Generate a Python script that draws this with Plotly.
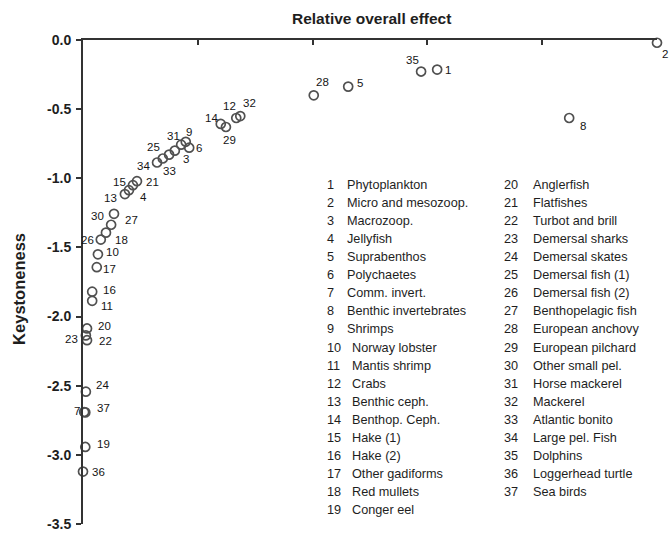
import plotly.graph_objects as go

# ---------------- data ----------------
group_ids = list(range(1, 38))
group_names = [
    "Phytoplankton", "Micro and mesozoop.", "Macrozoop.", "Jellyfish", "Suprabenthos",
    "Polychaetes", "Comm. invert.", "Benthic invertebrates", "Shrimps", "Norway lobster",
    "Mantis shrimp", "Crabs", "Benthic ceph.", "Benthop. Ceph.", "Hake (1)",
    "Hake (2)", "Other gadiforms", "Red mullets", "Conger eel", "Anglerfish",
    "Flatfishes", "Turbot and brill", "Demersal sharks", "Demersal skates", "Demersal fish (1)",
    "Demersal fish (2)", "Benthopelagic fish", "European anchovy", "European pilchard", "Other small pel.",
    "Horse mackerel", "Mackerel", "Atlantic bonito", "Large pel. Fish", "Dolphins",
    "Loggerhead turtle", "Sea birds",
]
relative_effect = [
    0.617, 1.000, 0.160, 0.080, 0.462, 0.185, 0.002, 0.847, 0.179, 0.026,
    0.016, 0.267, 0.073, 0.240, 0.087, 0.016, 0.024, 0.040, 0.004, 0.007,
    0.094, 0.007, 0.005, 0.005, 0.150, 0.031, 0.049, 0.402, 0.249, 0.054,
    0.171, 0.274, 0.139, 0.129, 0.589, 0.000, 0.004,
]
keystoneness = [
    -0.214, -0.020, -0.800, -1.086, -0.337, -0.779, -2.690, -0.564, -0.736, -1.550,
    -1.886, -0.564, -1.114, -0.607, -1.050, -1.820, -1.643, -1.393, -2.943, -2.086,
    -1.021, -2.171, -2.136, -2.543, -0.829, -1.443, -1.336, -0.400, -0.629, -1.257,
    -0.757, -0.550, -0.857, -0.886, -0.228, -3.121, -2.693,
]
x_tick_vals = [0, 0.2, 0.4, 0.6, 0.8, 1.0]
y_tick_vals = [0.0, -0.5, -1.0, -1.5, -2.0, -2.5, -3.0, -3.5]
y_tick_text = ["0.0", "-0.5", "-1.0", "-1.5", "-2.0", "-2.5", "-3.0", "-3.5"]

# ---------------- styling (label offsets in px: dx right, dy down) ----------------
label_dx = [11, 8, 11, 15, 12, 10, -7, 14, 3, 15,
            15, -7, -14, -9, -13, 17, 13, 16, 18, 17,
            16, 18, -14, 17, -16, -13, 20, 9, 4, -17,
            -8, 9, 7, -14, -9, 15, 18]
label_dy = [0, 11, 8, 7, -4, 0, -1, 8, -10, -2,
            5, -12, 4, -6, -3, -2, 2, 7, -3, -2,
            1, 1, 4, -7, -8, 0, -5, -13, 13, 2,
            -9, -13, 12, 3, -12, 0, -4]

W, H = 669, 542
L, R, T, B = 83, 12, 40, 10
PW, PH = W - L - R, H - T - B
FONT = "Liberation Sans, Arial, sans-serif"
INK = "#1e1e1e"

fig = go.Figure()
fig.add_trace(go.Scatter(
    x=relative_effect, y=keystoneness, mode="markers",
    marker=dict(symbol="circle-open", size=9, color="#505050", line=dict(width=1.7, color="#505050")),
    text=[f"{i} {n}" for i, n in zip(group_ids, group_names)],
    hoverinfo="text", cliponaxis=False, showlegend=False,
))

annotations = []
for i, xv, yv, dx, dy in zip(group_ids, relative_effect, keystoneness, label_dx, label_dy):
    annotations.append(dict(
        x=xv, y=yv, xref="x", yref="y", text=str(i), showarrow=False,
        xshift=dx, yshift=-dy, font=dict(family=FONT, size=11.5, color="#151515"),
        xanchor="center", yanchor="middle",
    ))

# legend block as text
def px_to_paper(px, py):
    return (px - L) / PW, (H - B - py) / PH

row0, row_gap = 187, 18.4
for k, (i, n) in enumerate(zip(group_ids, group_names)):
    col = 0 if k < 19 else 1
    r = k if k < 19 else k - 19
    py = row0 + r * row_gap
    if col == 0:
        nx, tx = 325, (345 if i < 10 else 350)
    else:
        nx, tx = 502, 531
    xp, yp = px_to_paper(nx, py)
    annotations.append(dict(x=xp, y=yp, xref="paper", yref="paper", text=str(i), showarrow=False,
                            xanchor="left", yanchor="middle",
                            font=dict(family=FONT, size=12.7, color=INK)))
    xp, yp = px_to_paper(tx, py)
    annotations.append(dict(x=xp, y=yp, xref="paper", yref="paper", text=n, showarrow=False,
                            xanchor="left", yanchor="middle",
                            font=dict(family=FONT, size=12.7, color=INK)))

# axis titles
xp, yp = px_to_paper(371, 18)
annotations.append(dict(x=xp, y=yp, xref="paper", yref="paper", text="<b>Relative overall effect</b>",
                        showarrow=False, xanchor="center", yanchor="middle",
                        font=dict(family=FONT, size=15.5, color=INK)))
xp, yp = px_to_paper(19, 293)
annotations.append(dict(x=xp, y=yp, xref="paper", yref="paper", text="<b>Keystoneness</b>",
                        showarrow=False, xanchor="center", yanchor="middle", textangle=-90,
                        font=dict(family=FONT, size=16.5, color=INK)))

fig.update_layout(
    width=W, height=H, margin=dict(l=L, r=R, t=T, b=B),
    paper_bgcolor="white", plot_bgcolor="white",
    annotations=annotations,
    xaxis=dict(range=[0, 1], side="top", showline=True, linecolor="#333333", linewidth=2,
               ticks="inside", ticklen=5, tickwidth=1.5, tickcolor="#333333",
               tickvals=x_tick_vals, showticklabels=False, showgrid=False, zeroline=False),
    yaxis=dict(range=[-3.5, 0], showline=True, linecolor="#333333", linewidth=2,
               ticks="outside", ticklen=5, tickwidth=1.5, tickcolor="#333333",
               tickvals=y_tick_vals, ticktext=y_tick_text, ticklabelstandoff=2,
               tickfont=dict(family=FONT, size=14, color=INK, weight="bold"),
               showgrid=False, zeroline=False),
)

fig.write_html("out.html")
